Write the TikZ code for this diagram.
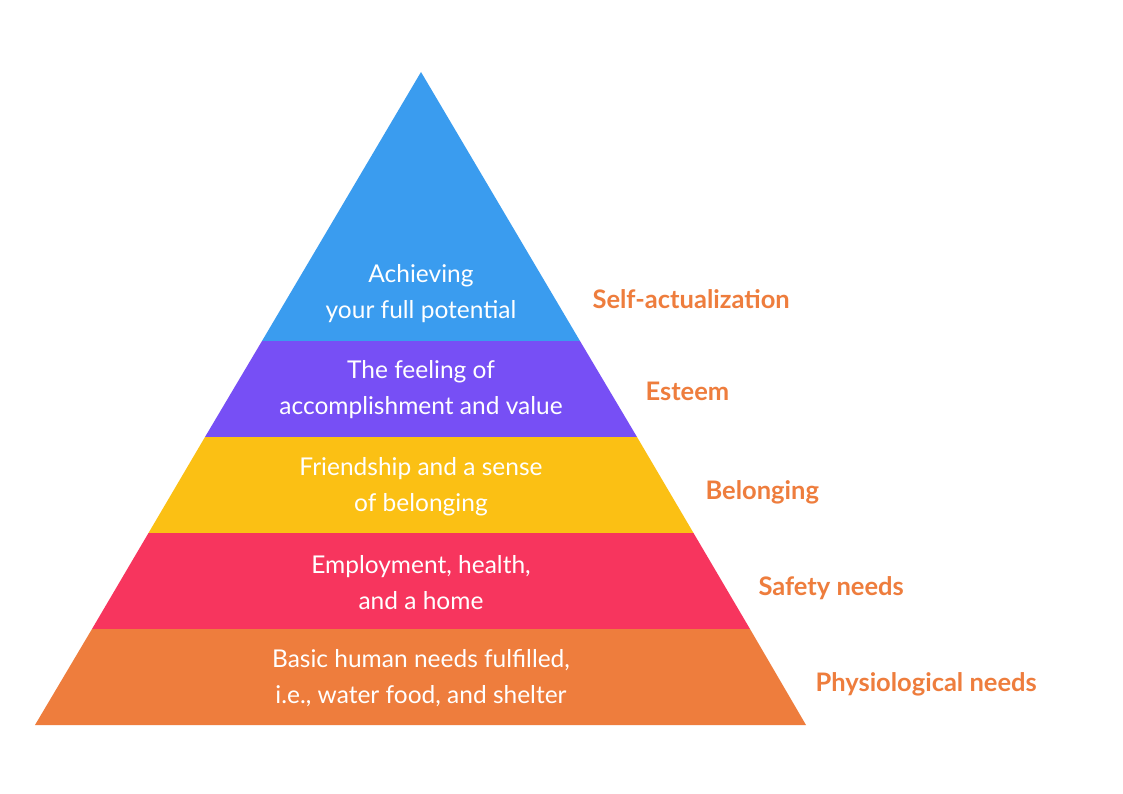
\documentclass[tikz,border=0pt]{standalone}
\usepackage{fontspec}
\setmainfont{Lato}
\definecolor{cblue}{HTML}{3A9CEF}
\definecolor{cpurple}{HTML}{774FF5}
\definecolor{cyellow}{HTML}{FBC014}
\definecolor{cpink}{HTML}{F7355E}
\definecolor{corange}{HTML}{EE7D3D}
\begin{document}
\begin{tikzpicture}[x=1pt,y=-1pt,
  intext/.style={text=white,align=center,font=\fontsize{24.5}{36}\selectfont},
  lvl/.style={text=corange,anchor=west,font=\fontsize{25.5}{28}\selectfont\bfseries}]
\useasboundingbox[fill=white] (0,0) rectangle (1123,794);
\fill[cblue] (421,72) -- (262,341) -- (580,341) -- cycle;
\fill[cpurple] (262,341) -- (205,437) -- (637,437) -- (580,341) -- cycle;
\fill[cyellow] (205,437) -- (148.5,533) -- (693.5,533) -- (637,437) -- cycle;
\fill[cpink] (148.5,533) -- (92,629) -- (750,629) -- (693.5,533) -- cycle;
\fill[corange] (92,629) -- (35,725) -- (806,725) -- (750,629) -- cycle;
\node[intext] (t1) at (421,293.5) {Achieving\\your full potential};
\node[intext] (t2) at (421,390) {The feeling of\\accomplishment and value};
\node[intext] (t3) at (421,486.5) {Friendship and a sense\\of belonging};
\node[intext] (t4) at (421,583) {Employment, health,\\and a home};
\node[intext] (t5) at (421,678.5) {Basic human needs fulfilled,\\i.e., water food, and shelter};
\node[lvl] (l1) at (589,299) {Self-actualization};
\node[lvl] (l2) at (642,391) {Esteem};
\node[lvl] (l3) at (702,492) {Belonging};
\node[lvl] (l4) at (755,588) {Safety needs};
\node[lvl] (l5) at (812,684) {Physiological needs};
\end{tikzpicture}
\end{document}
